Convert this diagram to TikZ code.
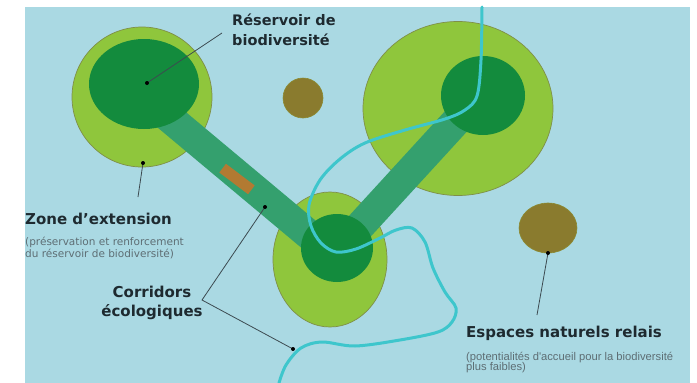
\documentclass[tikz,border=0pt]{standalone}
\usepackage{fontspec}
\setmainfont{DejaVu Sans}
\newfontfamily\narrowf{Liberation Sans}
\definecolor{bg}{HTML}{AAD9E3}
\definecolor{lightg}{HTML}{8FC63C}
\definecolor{darkg}{HTML}{138B3D}
\definecolor{corr}{HTML}{34A06E}
\definecolor{olive}{HTML}{8A7B2E}
\definecolor{rust}{HTML}{B27A32}
\definecolor{river}{HTML}{3EC6CC}
\definecolor{edge}{HTML}{7F8F48}
\definecolor{txt}{HTML}{1E2A30}
\definecolor{subtxt}{HTML}{5E6E74}
\definecolor{leadc}{HTML}{3C4A50}
\tikzset{
  zone/.style={fill=lightg, draw=edge, line width=0.7pt},
  core/.style={fill=darkg},
  relay/.style={fill=olive, draw=olive!80!lightg, line width=0.6pt},
  corridor/.style={draw=corr, line width=30pt, line cap=butt},
  riverline/.style={draw=river, line width=3pt, line cap=round, line join=round},
  leader/.style={draw=leadc, line width=0.8pt},
  dotmark/.style={fill=black},
  lbl/.style={font=\bfseries\fontsize{15}{18}\selectfont, text=txt, inner sep=0pt},
  sublbl/.style={font=\fontsize{10.5}{12}\selectfont, text=subtxt, inner sep=0pt},
  subnarrow/.style={font=\narrowf\fontsize{11.2}{12}\selectfont, text=subtxt, inner sep=0pt}
}
\begin{document}
\begin{tikzpicture}[x=1pt,y=-1pt]
\useasboundingbox (0,0) rectangle (697,383);
\fill[white] (0,0) rectangle (697,383);
\fill[bg] (25,7) rectangle (690,383);
% extension zones
\filldraw[zone] (142,97) circle[radius=70pt];
\filldraw[zone] (458,108.5) ellipse[x radius=95pt, y radius=87pt];
\filldraw[zone] (330,259.5) ellipse[x radius=57pt, y radius=67.5pt];
% relay spaces
\filldraw[relay] (303,98) circle[radius=20pt];
\filldraw[relay] (548,228) ellipse[x radius=29pt, y radius=25pt];
% corridors
\coordinate (cAa) at (160,110);
\coordinate (cAb) at (325,248);
\coordinate (cBa) at (350,237);
\coordinate (cBb) at (470,106);
\draw[corridor] (cAa) -- (cAb);
\draw[corridor] (cBa) -- (cBb);
% cores
\fill[core] (144,84) ellipse[x radius=55pt, y radius=45pt];
\fill[core] (483,95.5) ellipse[x radius=42pt, y radius=39.5pt];
\fill[core] (337,248) ellipse[x radius=36pt, y radius=34pt];
% patch on corridor
\node[rotate=-37, fill=rust, minimum width=36pt, minimum height=11pt, inner sep=0pt] (patch) at (237,179) {};
% river
\draw[riverline] plot[smooth, tension=0.55] coordinates {
 (482,7) (481,60) (477,96) (465,110) (445,119) (405,130) (365,143) (340,159)
 (320,180) (309,205) (311,226) (321,243) (336,252) (356,249) (380,238) (396,230)
 (412,228) (425,242) (433,268) (445,292) (456,308) (452,322) (438,332) (400,340)
 (355,346) (322,342) (301,348) (286,365) (279,383)};
% labels
\node[lbl, anchor=base west, font=\bfseries\fontsize{14.5}{17}\selectfont] (res1) at (232,25) {Réservoir de};
\node[lbl, anchor=base west, font=\bfseries\fontsize{14.5}{17}\selectfont] (res2) at (232,45) {biodiversité};
\node[lbl, anchor=base west] (zone) at (25,224) {Zone d'extension};
\node[sublbl, anchor=base west] (zs1) at (25,245) {(préservation et renforcement};
\node[sublbl, anchor=base west] (zs2) at (25,257) {du réservoir de biodiversité)};
\node[lbl, anchor=base] (cor1) at (152,297) {Corridors};
\node[lbl, anchor=base] (cor2) at (152,316) {écologiques};
\node[lbl, anchor=base west] (esp) at (466,337) {Espaces naturels relais};
\node[subnarrow, anchor=base west] (es1) at (466,360) {(potentialités d'accueil pour la biodiversité};
\node[subnarrow, anchor=base west] (es2) at (466,370) {plus faibles)};
% leader lines
\coordinate (resdot) at (147,83);
\coordinate (resend) at (222,33);
\coordinate (zonedot) at (143,163);
\coordinate (zoneend) at (138,197);
\coordinate (corend) at (202,300);
\coordinate (cordotA) at (265,207);
\coordinate (cordotB) at (293,349);
\coordinate (espdot) at (548,253);
\coordinate (espend) at (537,315);
\draw[leader] (resend) -- (resdot);
\draw[leader] (zoneend) -- (zonedot);
\draw[leader] (cordotA) -- (corend) -- (cordotB);
\draw[leader] (espend) -- (espdot);
\foreach \d in {resdot,zonedot,cordotA,cordotB,espdot}
  \fill[dotmark] (\d) circle[radius=2pt];
\end{tikzpicture}
\end{document}
